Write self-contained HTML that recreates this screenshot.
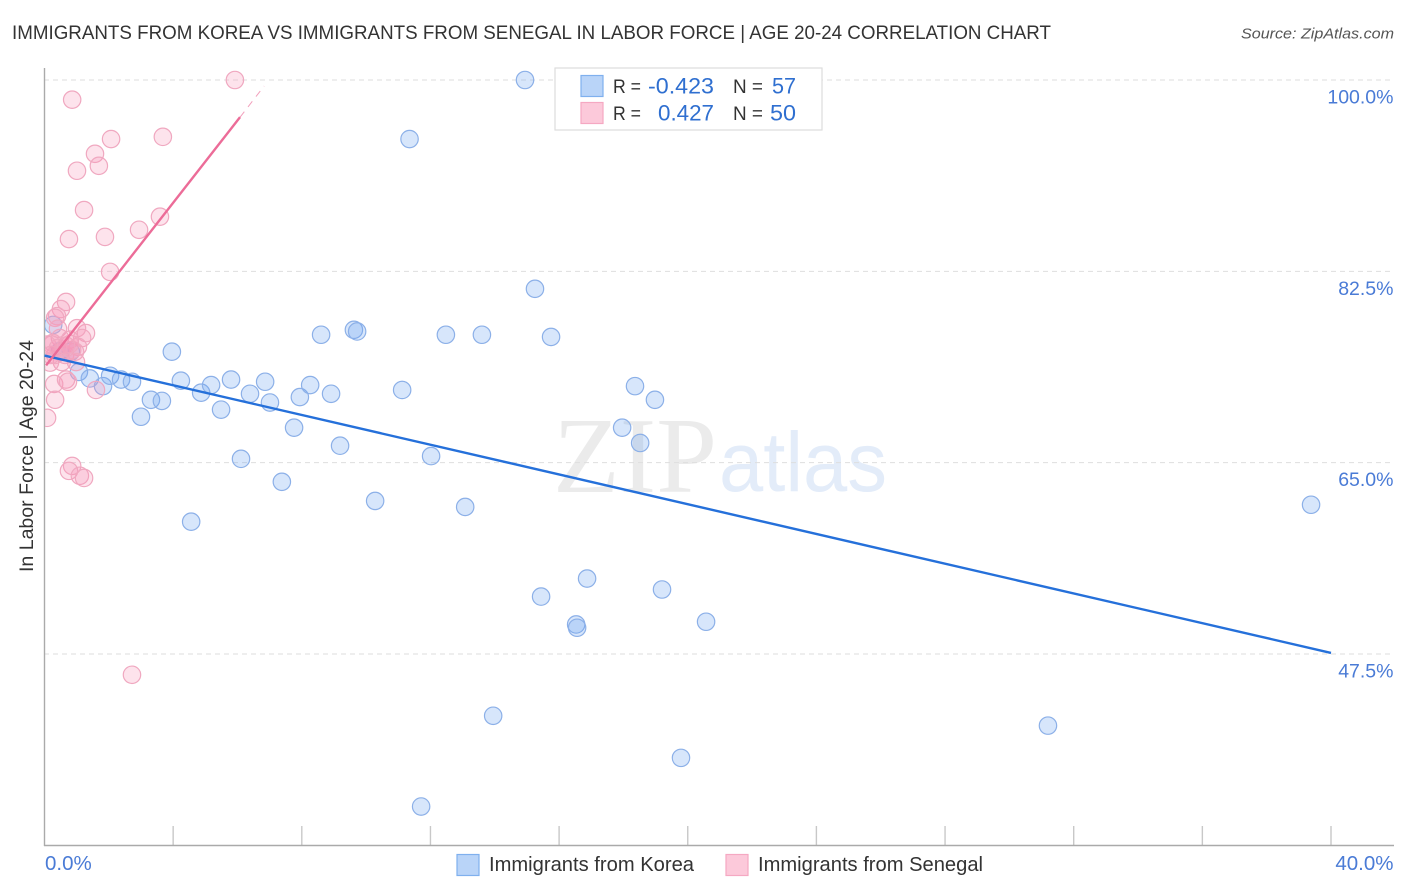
<!DOCTYPE html>
<html lang="en">
<head>
<meta charset="utf-8">
<title>Immigrants from Korea vs Immigrants from Senegal in Labor Force | Age 20-24 Correlation Chart</title>
<style>
html,body{margin:0;padding:0;background:#fff;}
svg{display:block;font-family:"Liberation Sans",sans-serif;}
</style>
</head>
<body>
<svg id="chart" width="1406" height="892" viewBox="0 0 1406 892" xmlns="http://www.w3.org/2000/svg">
  <defs>
    <clipPath id="plot-clip"><rect x="45" y="60" width="1349" height="785"/></clipPath>
  </defs>
  <text x="12" y="39" font-size="19.5" fill="#333" textLength="1039" lengthAdjust="spacingAndGlyphs">IMMIGRANTS FROM KOREA VS IMMIGRANTS FROM SENEGAL IN LABOR FORCE | AGE 20-24 CORRELATION CHART</text>
  <text x="1394" y="38.5" font-size="15" font-style="italic" fill="#555" text-anchor="end" textLength="153" lengthAdjust="spacingAndGlyphs">Source: ZipAtlas.com</text>

  <g>
    <text x="553" y="492" font-family="'Liberation Serif',serif" font-size="108" fill="#ebebeb" textLength="164" lengthAdjust="spacingAndGlyphs">ZIP</text>
    <text x="719" y="491" font-size="84" fill="#e3ecf9" textLength="168" lengthAdjust="spacingAndGlyphs">atlas</text>
  </g>

  <g id="grid"></g>
  <g id="xticks"></g>
  <line x1="44.5" y1="68" x2="44.5" y2="846" stroke="#aaa" stroke-width="1.4"/>
  <line x1="44" y1="845.5" x2="1394" y2="845.5" stroke="#aaa" stroke-width="1.4"/>
  <g id="ylabels"></g>
  <g id="xlabels"></g>
  <text transform="translate(33,456) rotate(-90)" font-size="19" fill="#333" text-anchor="middle" textLength="232" lengthAdjust="spacingAndGlyphs">In Labor Force | Age 20-24</text>

  <g id="korea-points" clip-path="url(#plot-clip)"></g>
  <g id="senegal-points" clip-path="url(#plot-clip)"></g>
  <g id="trends"></g>

  <g>
    <rect x="555" y="68" width="267" height="62" fill="#fff" stroke="#ddd" stroke-width="1.2"/>
    <rect x="581" y="75.5" width="22" height="21" fill="#b9d4f8" stroke="#7fb0ee" stroke-width="1.2"/>
    <rect x="581" y="102.5" width="22" height="21" fill="#fcc9da" stroke="#f5a8c2" stroke-width="1.2"/>
    <text x="613" y="93" font-size="19" fill="#333" textLength="28" lengthAdjust="spacingAndGlyphs">R =</text>
    <text x="648" y="93.5" font-size="22" fill="#2f6fd0" textLength="66" lengthAdjust="spacingAndGlyphs">-0.423</text>
    <text x="733" y="93" font-size="19" fill="#333" textLength="30" lengthAdjust="spacingAndGlyphs">N =</text>
    <text x="772" y="93.5" font-size="22" fill="#2f6fd0" textLength="24" lengthAdjust="spacingAndGlyphs">57</text>
    <text x="613" y="120" font-size="19" fill="#333" textLength="28" lengthAdjust="spacingAndGlyphs">R =</text>
    <text x="658" y="120.5" font-size="22" fill="#2f6fd0" textLength="56" lengthAdjust="spacingAndGlyphs">0.427</text>
    <text x="733" y="120" font-size="19" fill="#333" textLength="30" lengthAdjust="spacingAndGlyphs">N =</text>
    <text x="770" y="120.5" font-size="22" fill="#2f6fd0" textLength="26" lengthAdjust="spacingAndGlyphs">50</text>
  </g>

  <g>
    <rect x="457" y="854.5" width="22" height="21" fill="#b9d4f8" stroke="#7fb0ee" stroke-width="1.2"/>
    <text x="489" y="871" font-size="20" fill="#333" textLength="205" lengthAdjust="spacingAndGlyphs">Immigrants from Korea</text>
    <rect x="726" y="854.5" width="22" height="21" fill="#fcc9da" stroke="#f5a8c2" stroke-width="1.2"/>
    <text x="758" y="871" font-size="20" fill="#333" textLength="225" lengthAdjust="spacingAndGlyphs">Immigrants from Senegal</text>
  </g>
</svg>
<script>
const yTicks = [100, 82.5, 65, 47.5];
const yTickLabels = ['100.0%', '82.5%', '65.0%', '47.5%'];
const xTicks = [4, 8, 12, 16, 20, 24, 28, 32, 36, 40];
const xTickLabels = ['0.0%', '40.0%'];
const xTickLabelValues = [0, 40];

const koreaX = [14.94,11.35,15.25,8.60,9.62,9.72,12.48,13.60,15.75,3.96,1.07,1.41,1.82,2.04,2.38,2.72,4.24,4.87,5.18,5.80,6.39,6.86,7.01,7.94,8.26,8.91,11.12,18.36,18.98,3.31,3.65,3.00,5.49,7.76,9.19,6.11,12.02,17.96,18.52,7.38,10.28,13.08,4.56,39.38,16.87,19.20,15.44,16.53,16.56,20.57,13.95,31.20,19.79,11.71,0.27,0.48,0.82];
const koreaY = [100,94.6,80.9,76.7,77.15,77.0,76.7,76.7,76.5,75.15,73.3,72.7,72.0,72.95,72.6,72.4,72.5,71.4,72.1,72.6,71.3,72.4,70.5,71.0,72.1,71.3,71.65,72.0,70.75,70.75,70.65,69.2,69.85,68.2,66.55,65.35,65.6,68.2,66.8,63.25,61.5,60.95,59.6,61.15,54.4,53.4,52.75,50.2,49.9,50.45,41.85,40.95,38.0,33.55,77.6,75.2,75.15];
const senegalX = [5.92,0.86,3.68,2.07,1.57,1.69,1.01,1.23,3.59,2.94,0.76,1.88,2.04,0.67,0.51,0.39,0.33,0.42,0.48,1.29,1.01,1.17,0.79,1.04,0.26,0.08,0.30,0.33,0.67,0.73,1.60,0.86,0.76,1.10,1.23,2.72,0.51,0.54,0.17,0.23,0.64,0.95,0.86,0.33,0.08,0.98,0.79,0.20,0.42,0.67];
const senegalY = [100,98.2,94.8,94.6,93.25,92.15,91.7,88.1,87.5,86.3,85.45,85.65,82.45,79.7,79.05,78.4,78.25,77.25,76.4,76.85,77.3,76.4,76.25,75.6,75.95,69.1,72.2,70.75,72.6,72.4,71.65,64.7,64.25,63.8,63.6,45.6,75.15,74.2,74.15,75.8,74.85,75.15,75.3,74.85,75.8,74.2,75.85,74.85,75.5,75.7];
const koreaTrendX = [0, 40];
const koreaTrendY = [74.8, 47.6];
const senegalTrendX = [0.05, 6.08];
const senegalTrendY = [73.9, 96.6];
const senegalExtendX = [6.08, 6.83];
const senegalExtendY = [96.6, 99.45];

const NS = 'http://www.w3.org/2000/svg';
const sx = v => 44.5 + v * (1331 - 44.5) / 40;
const sy = v => 80 + (100 - v) * (654 - 80) / 52.5;

function mk(parent, tag, attrs, txt) {
  const el = document.createElementNS(NS, tag);
  for (const k in attrs) el.setAttribute(k, attrs[k]);
  if (txt !== undefined) el.textContent = txt;
  document.getElementById(parent).appendChild(el);
  return el;
}

yTicks.forEach((t, i) => {
  const g = mk('grid', 'line', {x1: 44, x2: 1394, y1: sy(t), y2: sy(t), stroke: '#dedede', 'stroke-width': 1, 'stroke-dasharray': '5 4'});
  
  
  const l = mk('ylabels', 'text', {x: 1393.5, y: sy(t) + 23.5, 'font-size': 19.5, fill: '#4a7bd6', 'text-anchor': 'end'}, yTickLabels[i]);
  
  
});

xTicks.forEach(t => {
  const m = mk('xticks', 'line', {x1: sx(t), x2: sx(t), y1: 826, y2: 845, stroke: '#c8c8c8', 'stroke-width': 1.4});
  
  
});

xTickLabels.forEach((s, i) => {
  const first = i === 0;
  const l = mk('xlabels', 'text', {x: first ? sx(xTickLabelValues[i]) + 0.5 : 1393.5, y: 870, 'font-size': 20.5, fill: '#4a7bd6', 'text-anchor': first ? 'start' : 'end'}, s);
  
  
});

koreaX.forEach((v, i) => {
  const c = mk('korea-points', 'circle', {cx: sx(v), cy: sy(koreaY[i]), r: 8.7, fill: 'rgba(106,163,240,0.27)', stroke: '#8cb0e8', 'stroke-width': 1.2});
  
  
});

senegalX.forEach((v, i) => {
  const c = mk('senegal-points', 'circle', {cx: sx(v), cy: sy(senegalY[i]), r: 8.7, fill: 'rgba(248,150,185,0.27)', stroke: '#f0a8c0', 'stroke-width': 1.2});
  
  
});

const kt = mk('trends', 'line', {x1: sx(koreaTrendX[0]), y1: sy(koreaTrendY[0]), x2: sx(koreaTrendX[1]), y2: sy(koreaTrendY[1]), stroke: '#2570da', 'stroke-width': 2.4});



const st = mk('trends', 'line', {x1: sx(senegalTrendX[0]), y1: sy(senegalTrendY[0]), x2: sx(senegalTrendX[1]), y2: sy(senegalTrendY[1]), stroke: '#ec6c98', 'stroke-width': 2.4});



const se = mk('trends', 'line', {x1: sx(senegalExtendX[0]), y1: sy(senegalExtendY[0]), x2: sx(senegalExtendX[1]), y2: sy(senegalExtendY[1]), stroke: '#f2a0bc', 'stroke-width': 1, 'stroke-dasharray': '7 6'});


</script>
</body>
</html>
